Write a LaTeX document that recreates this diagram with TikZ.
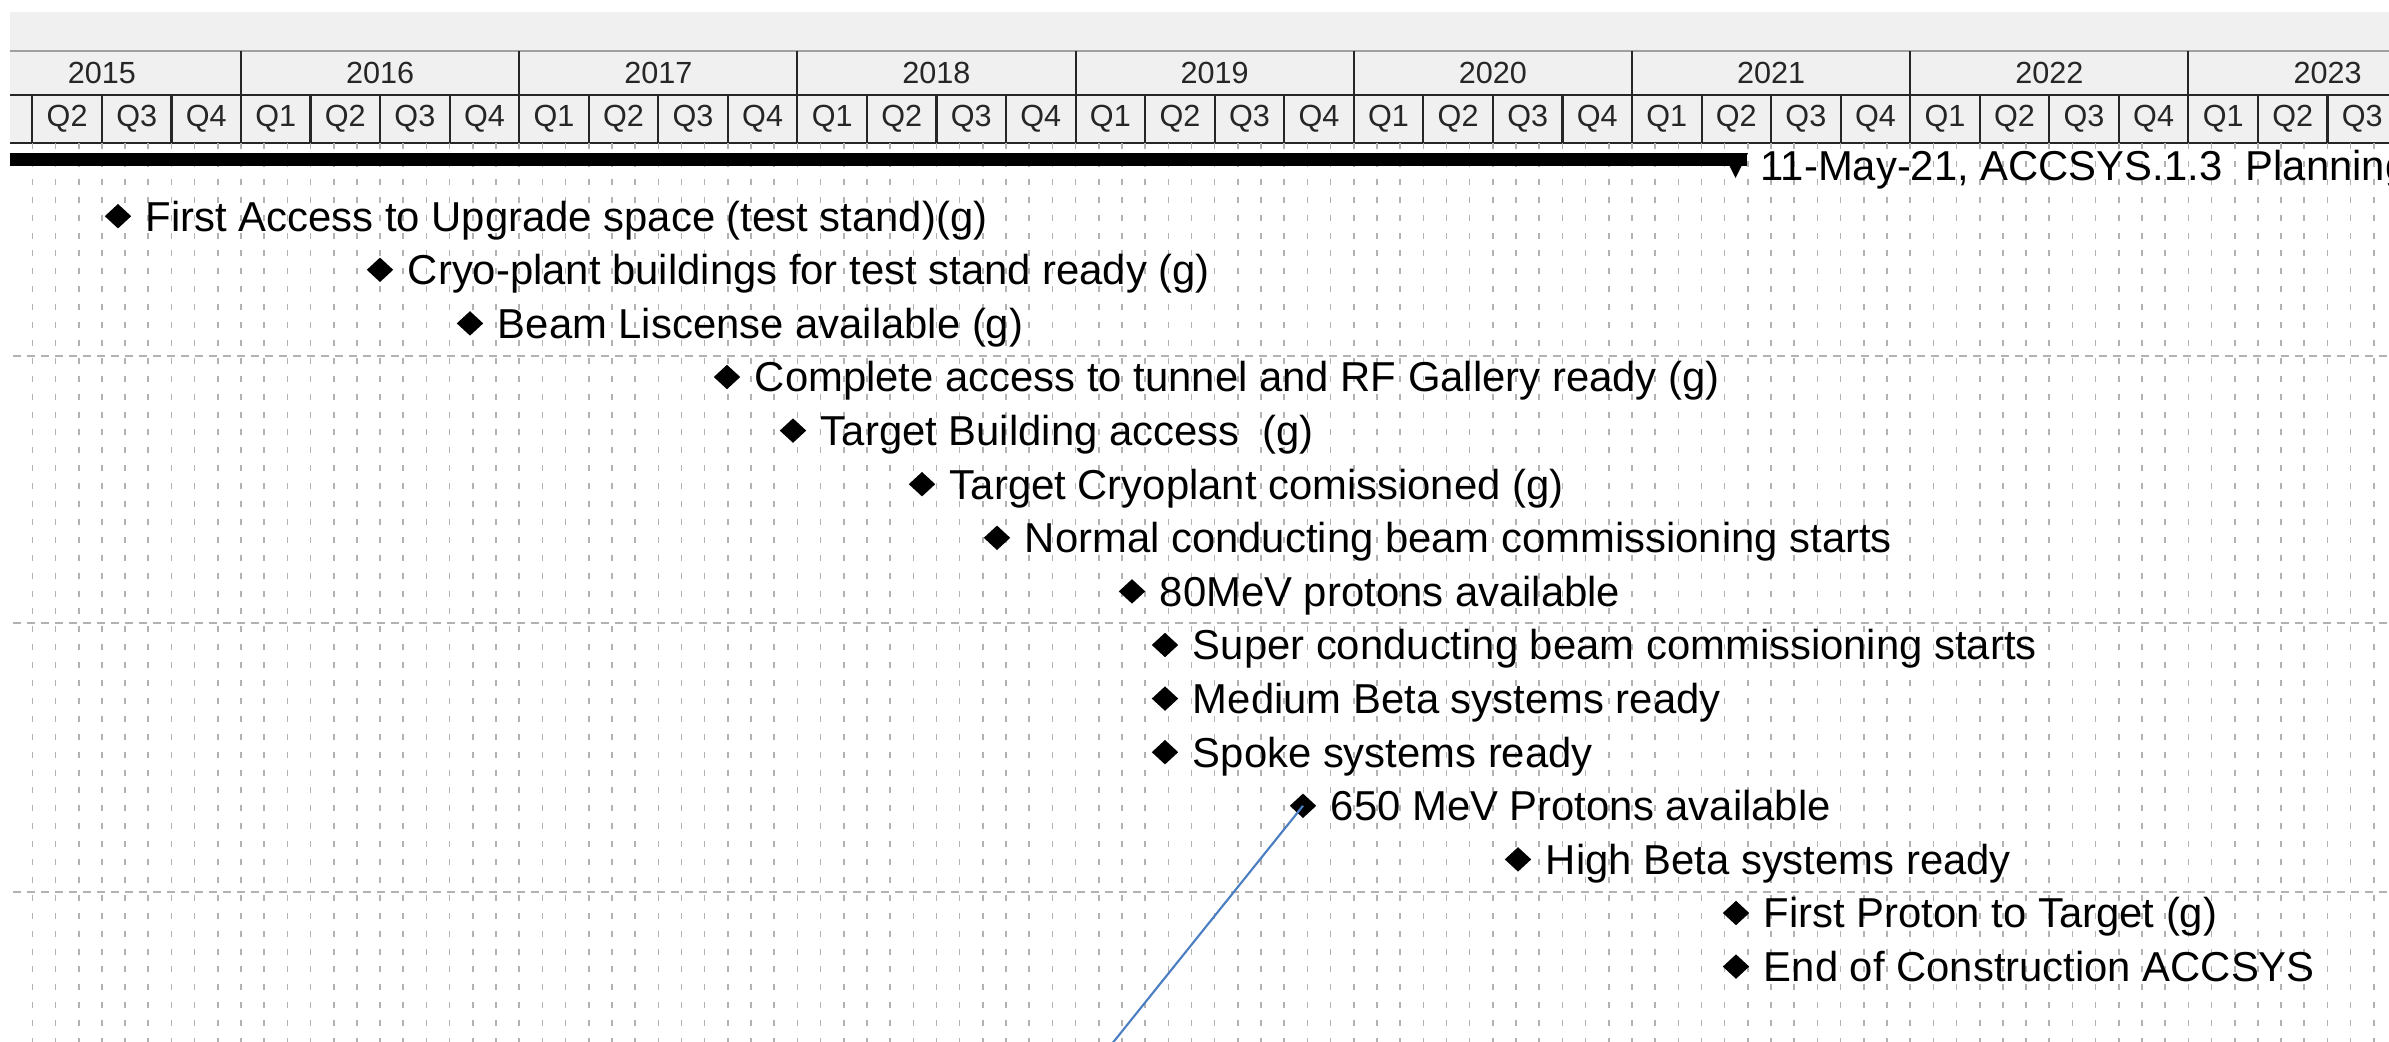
\documentclass[tikz,border=0pt]{standalone}
\usepackage{fontspec}
\setmainfont{Liberation Sans}
\usepackage{tikz}
\usetikzlibrary{positioning,shapes.geometric}
\definecolor{hdrgrey}{RGB}{240,240,240}
\definecolor{hdrline}{RGB}{160,160,160}
\definecolor{gridgrey}{RGB}{178,178,178}
\definecolor{callblue}{RGB}{74,126,193}
\tikzset{
  hdrtext/.style={font=\fontsize{8.7}{10}\selectfont, text=black!85, inner sep=0pt},
  hdrrule/.style={draw=black!85, line width=0.6pt},
  monthline/.style={draw=gridgrey, line width=0.45pt,
    dash pattern=on 0.06cm off 0.119cm},
  bandline/.style={draw=gridgrey, line width=0.45pt,
    dash pattern=on 0.08cm off 0.06cm},
  msdiamond/.style={diamond, fill=black, inner sep=0pt,
    minimum width=0.27cm, minimum height=0.25cm},
  mstext/.style={font=\fontsize{11.9}{14}\selectfont, inner sep=0pt,
    text height=11.1pt, text depth=2.6pt},
  callout/.style={draw=callblue, line width=0.6pt},
}
\begin{document}
\begin{tikzpicture}
  \useasboundingbox (0,0) rectangle (23.89,-10.42);
  \fill[white] (0,0) rectangle (23.89,-10.42);

  % timescale
  \fill[hdrgrey] (0.10,-0.12) rectangle (23.89,-1.43);
  \draw[hdrline] (0.10,-0.51) -- (23.89,-0.51);
  \draw[hdrrule] (0.10,-0.95) -- (23.89,-0.95);
  \draw[hdrrule] (0.10,-1.43) -- (23.89,-1.43);
  \foreach \q in {-3,...,31}
    \draw[hdrrule] ({2.41+\q*0.6955},-0.95) -- ({2.41+\q*0.6955},-1.43);
  \foreach \k in {0,...,7}
    \draw[hdrrule] ({2.41+\k*2.782},-0.51) -- ({2.41+\k*2.782},-0.95);
  \begin{scope}
    \clip (0.10,-0.12) rectangle (23.89,-1.43);
    \foreach \yr [count=\i from 0] in {2015,...,2023}
      \node[hdrtext] (yr\i) at ({2.41+(\i-0.5)*2.782},-0.73) {\yr};
    \foreach \q [count=\c] in {-3,...,31}{
      \pgfmathtruncatemacro\qn{mod(\q+8,4)+1}
      \node[hdrtext] (qt\c) at ({2.41+(\q+0.5)*0.6955},-1.19) {Q\qn};
    }
  \end{scope}

  % grid
  \foreach \m in {-9,...,92}
    \draw[monthline] ({2.41+\m*0.23183},-1.43) -- ({2.41+\m*0.23183},-10.42);
  \foreach \yb in {3.56,6.23,8.92}
    \draw[bandline] (0.13,-\yb) -- (23.89,-\yb);

  % summary task
  \fill (0.10,-1.53) rectangle (17.47,-1.66);
  \fill (17.23,-1.53) -- (17.48,-1.53) -- (17.355,-1.78) -- cycle;
  \node[mstext, anchor=west] (summary) at (17.60,-1.66)
    {11-May-21, ACCSYS.1.3\ \ Planning};

  % milestones
  \foreach \x/\r/\txt in {
      1.18/1/{First Access to Upgrade space (test stand)(g)},
      3.80/2/{Cryo-plant buildings for test stand ready (g)},
      4.70/3/{Beam Liscense available (g)},
      7.27/4/{Complete access to tunnel and RF Gallery ready (g)},
      7.93/5/{Target Building access\ \ (g)},
      9.22/6/{Target Cryoplant comissioned (g)},
      9.97/7/{Normal conducting beam commissioning starts},
      11.32/8/{80MeV protons available},
      11.65/9/{Super conducting beam commissioning starts},
      11.65/10/{Medium Beta systems ready},
      11.65/11/{Spoke systems ready},
      13.03/12/{650 MeV Protons available},
      15.18/13/{High Beta systems ready},
      17.36/14/{First Proton to Target (g)},
      17.36/15/{End of Construction ACCSYS}}{
    \node[msdiamond] (m\r) at (\x,{-3.77-(\r-4)*0.536}) {};
    \node[mstext, right=0.13cm of m\r] (t\r) {\txt};
  }

  \coordinate (callend) at (11.07,-10.50);
  \draw[callout] (callend) -- (m12.center);
\end{tikzpicture}
\end{document}
